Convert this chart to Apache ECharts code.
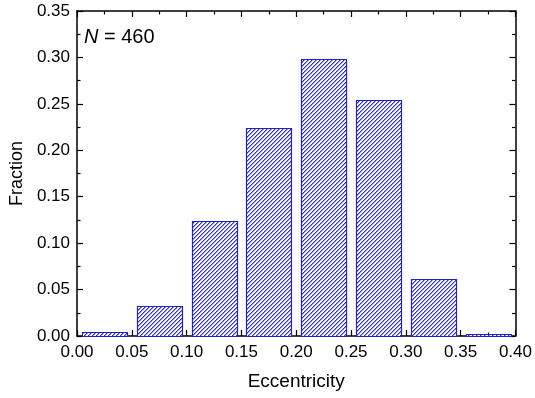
<!DOCTYPE html>
<html><head><meta charset="utf-8">
<script src="https://cdn.jsdelivr.net/npm/echarts@6/dist/echarts.min.js"></script>
<style>html,body{margin:0;padding:0;background:#fff}#c{width:535px;height:398px}</style>
</head><body><div id="c"></div>
<script>
// Data (fraction of N = 460 per eccentricity bin)
const binStarts = [0.00, 0.05, 0.10, 0.15, 0.20, 0.25, 0.30, 0.35];
const binWidth = 0.05;
const fractions = [0.0043, 0.0326, 0.1239, 0.2239, 0.2978, 0.2543, 0.0609, 0.0022];
const xTicks = ['0.00','0.05','0.10','0.15','0.20','0.25','0.30','0.35','0.40'];
const yTicks = ['0.00','0.05','0.10','0.15','0.20','0.25','0.30','0.35'];

// hatch pattern
function makeHatch(){
  const n = 4;
  const cv = document.createElement('canvas');
  cv.width = n; cv.height = n;
  const ctx = cv.getContext('2d');
  ctx.fillStyle = '#ffffff'; ctx.fillRect(0,0,n,n);
  for (let i=0;i<n;i++){
    ctx.fillStyle = '#2a2ae0';
    ctx.fillRect(i, n-1-i, 1, 1);
    ctx.fillStyle = '#9a9af0';
    ctx.fillRect(i, (n-i)%n, 1, 1);
  }
  return cv;
}
const hatch = {image: makeHatch(), repeat: 'repeat'};

const font = 'Liberation Sans, Arial, sans-serif';
const chart = echarts.init(document.getElementById('c'), null, {renderer:'canvas'});

function axisCommon(showLabel){
  return {
    axisLine:{show:true, onZero:false, lineStyle:{color:'#000', width:1.5}},
    axisTick:{show:true, inside:true, length:6, lineStyle:{color:'#000', width:1.2}},
    minorTick:{show:true, splitNumber:2, length:3.5, lineStyle:{color:'#000', width:1.2}},
    splitLine:{show:false},
    axisLabel:{show:showLabel, color:'#000', fontSize:17, fontFamily:font}
  };
}

const data = binStarts.map((s,i)=>[s, s+binWidth, fractions[i]]);

chart.setOption({
  animation:false,
  grid:{left:75, right:18, top:11, bottom:62},
  xAxis:[
    Object.assign(axisCommon(true), {type:'value', min:0, max:0.4, interval:0.05,
      name:'Eccentricity', nameLocation:'middle', nameGap:36,
      nameTextStyle:{color:'#000', fontSize:19, fontFamily:font},
      axisLabel:{show:true, color:'#000', fontSize:17, fontFamily:font, margin:8,
        formatter:(v)=>xTicks[Math.round(v/0.05)]}}),
    Object.assign(axisCommon(false), {type:'value', min:0, max:0.4, interval:0.05, position:'top'})
  ],
  yAxis:[
    Object.assign(axisCommon(true), {type:'value', min:0, max:0.35, interval:0.05,
      name:'Fraction', nameLocation:'middle', nameGap:51,
      nameTextStyle:{color:'#000', fontSize:18, fontFamily:font},
      axisLabel:{show:true, color:'#000', fontSize:17, fontFamily:font, margin:7,
        formatter:(v)=>yTicks[Math.round(v/0.05)]}}),
    Object.assign(axisCommon(false), {type:'value', min:0, max:0.35, interval:0.05, position:'right'})
  ],
  graphic:[{
    type:'text', left:84, top:27,
    style:{rich:{i:{fontStyle:'italic', fontSize:20, fontFamily:font, fill:'#000'},
                 n:{fontSize:20, fontFamily:font, fill:'#000'}},
           text:'{i|N}{n| = 460}'}
  }],
  series:[{
    type:'custom',
    xAxisIndex:0, yAxisIndex:0,
    encode:{x:[0,1], y:2},
    data:data,
    renderItem:function(params, api){
      const x0 = api.value(0), x1 = api.value(1), v = api.value(2);
      const pad = (x1-x0)*0.09;
      const p0 = api.coord([x0+pad, v]);
      const p1 = api.coord([x1-pad, 0]);
      return {
        type:'rect',
        shape:{x:Math.round(p0[0])+0.5, y:Math.round(p0[1])+0.5, width:Math.round(p1[0]-p0[0]), height:Math.round(p1[1]-p0[1])},
        style:{fill:hatch, stroke:'#2020d0', lineWidth:1.2}
      };
    }
  }]
});
</script></body></html>
